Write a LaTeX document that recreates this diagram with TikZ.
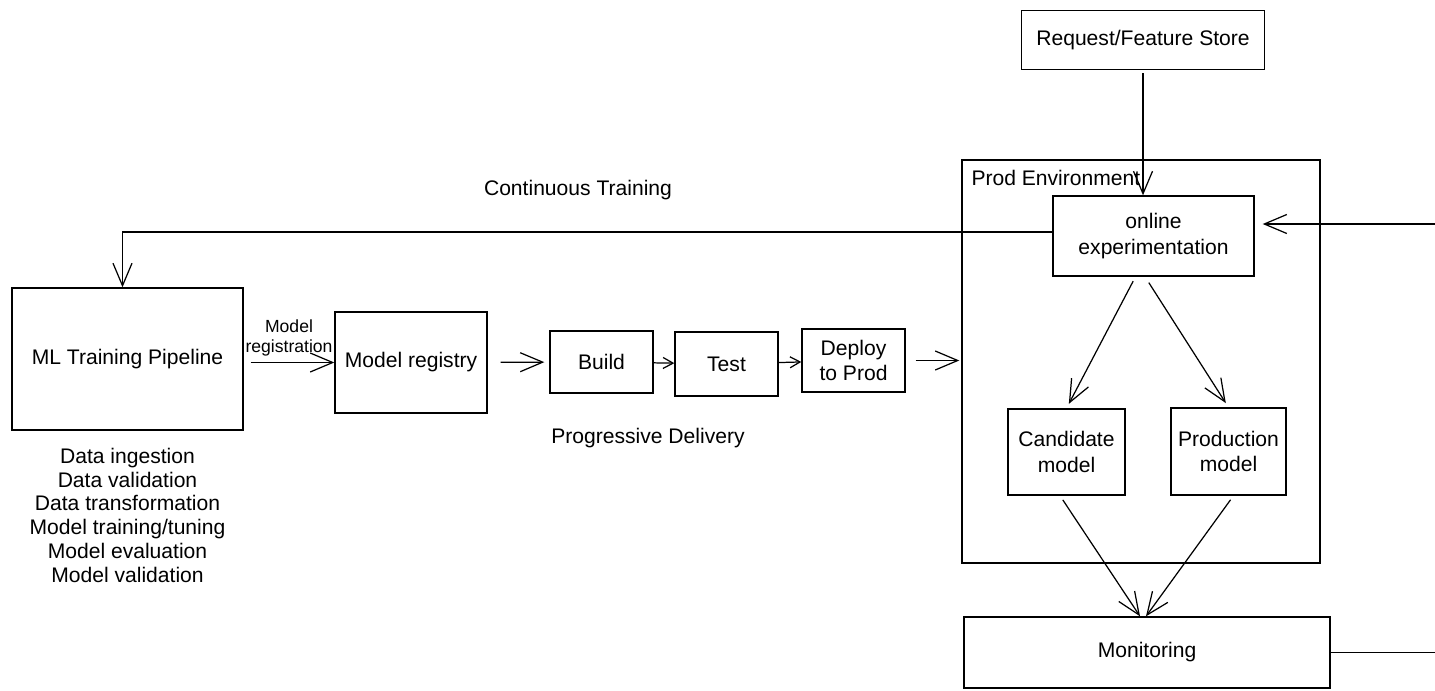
\documentclass[tikz,border=0pt]{standalone}
\usepackage{fontspec}
\setmainfont{Liberation Sans}
\usepackage{tikz}
\usetikzlibrary{arrows.meta,positioning,calc}

\begin{document}
\begin{tikzpicture}[
    block/.style={draw, rectangle, line width=0.8pt, inner sep=2pt,
                  font=\fontsize{12}{14.5}\selectfont, align=center},
    txt/.style={font=\fontsize{12}{13.6}\selectfont, align=center},
    lbl/.style={font=\fontsize{10}{11.3}\selectfont, align=center, inner sep=0pt},
    arr/.style={-{Straight Barb[length=4.5mm,width=3.8mm]}, line width=0.7pt},
    sarr/.style={-{Straight Barb[length=2mm,width=2.2mm]}, line width=0.7pt}
]
\useasboundingbox (0,0) rectangle (28.7,-13.8);

% --- prod side ---
\node[block, minimum width=4.86cm, minimum height=1.18cm] (store) at (22.86,-0.80) {Request/Feature Store};
\node[block, minimum width=7.16cm, minimum height=8.06cm] (prodenv) at (22.82,-7.23) {};
\node[txt, anchor=north west] (prodlbl) at ([xshift=0.08cm,yshift=-0.1cm]prodenv.north west) {Prod Environment};
\node[block, minimum width=4.02cm, minimum height=1.6cm] (online) at (23.07,-4.72) {online\\experimentation};
\node[block, minimum width=2.34cm, minimum height=1.72cm] (candidate) at (21.33,-9.04) {Candidate\\model};
\node[block, minimum width=2.30cm, minimum height=1.74cm] (production) at (24.57,-9.03) {Production\\model};
\node[block, minimum width=7.32cm, minimum height=1.42cm] (monitoring) at (22.94,-13.05) {Monitoring};

% --- training / delivery side ---
\node[block, minimum width=4.62cm, minimum height=2.84cm] (ml) at (2.55,-7.18) {ML Training Pipeline};
\node[txt, below=0.22cm of ml] (mlsteps) {Data ingestion\\Data validation\\Data transformation\\Model training/tuning\\Model evaluation\\Model validation};
\node[block, minimum width=3.04cm, minimum height=2.02cm] (registry) at (8.22,-7.25) {Model registry};
\node[block, minimum width=2.06cm, minimum height=1.24cm] (build) at (12.03,-7.24) {Build};
\node[block, minimum width=2.06cm, minimum height=1.28cm] (test) at (14.53,-7.28) {Test};
\node[block, minimum width=2.06cm, minimum height=1.26cm] (deploy) at (17.07,-7.21) {Deploy\\to Prod};

\node[txt] (ctlbl) at (11.56,-3.8) {Continuous Training};
\node[txt] (pdlbl) at (12.96,-8.76) {Progressive Delivery};

% --- loose ends at the right edge ---
\coordinate (fbin) at (28.7,-4.48);
\coordinate (fbout) at (28.7,-13.05);

% --- connectors ---
\draw[arr, shorten <=0.06cm] (store.south) -- (store.south |- online.north);
\draw[arr, shorten >=0.16cm] (fbin) -- (fbin -| online.east);
\draw[line width=0.7pt] (monitoring.east) -- (fbout);

\draw[arr] ([yshift=0.08cm]online.west) -| ([xshift=-0.1cm]ml.north);

\draw[arr, shorten <=0.14cm] (ml.east |- registry.west) -- node[lbl, above=0.12cm]{Model\\registration} (registry.west);
\draw[arr, shorten <=0.26cm, shorten >=0.1cm] (registry) -- (build);
\draw[sarr] (build) -- (test);
\draw[sarr] (test) -- (deploy);
\draw[arr, shorten <=0.2cm, shorten >=0.04cm] (deploy.east) -- (deploy.east -| prodenv.west);

\draw[arr, shorten <=0.1cm, shorten >=0.1cm] ([xshift=-0.36cm]online.south) -- (candidate.north);
\draw[arr, shorten <=0.14cm, shorten >=0.1cm] ([xshift=-0.17cm]online.south) -- (production.north);
\draw[arr, shorten <=0.1cm] ([xshift=-0.13cm]candidate.south) -- ([xshift=-0.14cm]monitoring.north);
\draw[arr, shorten <=0.1cm] ([xshift=0.1cm]production.south) -- ([xshift=-0.02cm]monitoring.north);

\end{tikzpicture}
\end{document}
